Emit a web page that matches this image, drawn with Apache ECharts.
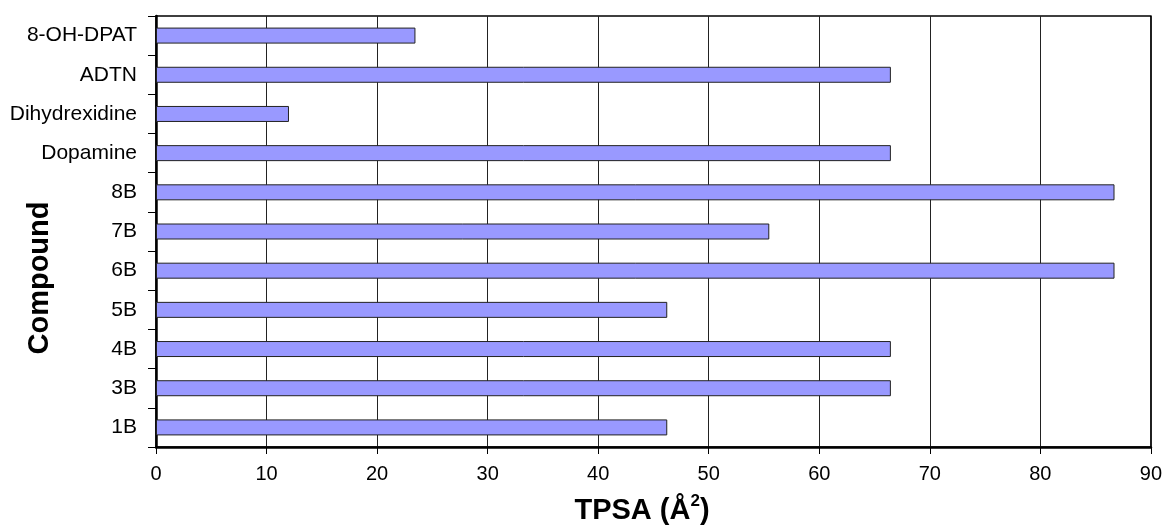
<!DOCTYPE html>
<html>
<head>
<meta charset="utf-8">
<script src="https://cdn.jsdelivr.net/npm/echarts@6/dist/echarts.min.js"></script>
<style>
html,body{margin:0;padding:0;background:#fff;}
#chart{width:1165px;height:529px;}
</style>
</head>
<body>
<div id="chart"></div>
<script>
var categories = ['1B','3B','4B','5B','6B','7B','8B','Dopamine','Dihydrexidine','ADTN','8-OH-DPAT'];
var tpsaValues = [46.25, 66.48, 66.48, 46.25, 86.71, 55.48, 86.71, 66.48, 12.03, 66.48, 23.47];
var xTicks = [0,10,20,30,40,50,60,70,80,90];

var FONT = '"Liberation Sans", Arial, sans-serif';
var chart = echarts.init(document.getElementById('chart'), null, {renderer:'canvas'});
chart.setOption({
  animation:false,
  backgroundColor:'#ffffff',
  grid:{left:156, right:14, top:16, bottom:82, show:true, borderColor:'#000', borderWidth:1.5, backgroundColor:'transparent'},
  xAxis:{
    type:'value', min:xTicks[0], max:xTicks[xTicks.length-1], interval:10,
    axisLine:{show:true, onZero:false, lineStyle:{color:'#000', width:2.5}},
    axisTick:{show:true, length:7, lineStyle:{color:'#000', width:1}},
    axisLabel:{color:'#000', fontSize:20, fontFamily:FONT, margin:17},
    splitLine:{show:true, lineStyle:{color:'#222', width:1}}
  },
  yAxis:{
    type:'category', data:categories,
    axisLine:{show:true, lineStyle:{color:'#000', width:2.5}},
    axisTick:{show:true, length:8, alignWithLabel:false, lineStyle:{color:'#000', width:1}},
    axisLabel:{color:'#000', fontSize:21, fontFamily:FONT, margin:19},
    splitLine:{show:false}
  },
  series:[{
    type:'bar', data:tpsaValues, barWidth:16,
    itemStyle:{color:'#9999FF', borderColor:'#222', borderWidth:1}
  }],
  graphic:[
    {type:'text', x:642, y:511, style:{
      text:'{a|TPSA (Å}{s|2}{a|)}', align:'center', verticalAlign:'middle',
      rich:{
        a:{fontSize:29, fontWeight:'bold', fontFamily:FONT, fill:'#000', lineHeight:36},
        s:{fontSize:17, fontWeight:'bold', fontFamily:FONT, fill:'#000', lineHeight:18, verticalAlign:'top'}
      }
    }},
    {type:'text', x:40, y:278, rotation:Math.PI/2, style:{
      text:'Compound', align:'center', verticalAlign:'middle',
      fontSize:29, fontWeight:'bold', fontFamily:FONT, fill:'#000'
    }}
  ]
});
</script>
</body>
</html>
